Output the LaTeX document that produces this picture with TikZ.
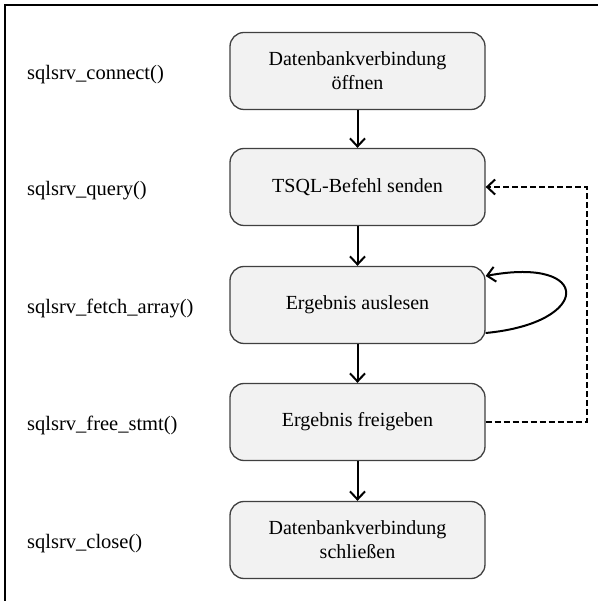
\documentclass[tikz,border=0pt]{standalone}
\usepackage{fontspec}
\setmainfont{Liberation Serif}
\usetikzlibrary{arrows.meta}
\definecolor{boxfill}{HTML}{F2F2F2}
\definecolor{boxline}{HTML}{404040}
\tikzset{
  stepbox/.style={draw=boxline, fill=boxfill, line width=1.3pt, rounded corners=14pt,
    minimum width=255pt, minimum height=77pt, align=center, inner sep=0pt,
    font=\fontsize{20}{24}\selectfont},
  fnlabel/.style={anchor=base west, inner sep=0pt, font=\fontsize{20.5}{24}\selectfont},
  flow/.style={line width=2pt, -{Straight Barb[length=8pt,width=15pt,line width=2pt]}},
}
\begin{document}
\begin{tikzpicture}[x=1pt,y=-1pt]
\useasboundingbox (0,0) rectangle (603,601);
\draw[line width=2pt] (5,601) -- (5,5) -- (598,5);

\node[stepbox] (b1) at (357.5,71) {Datenbankverbindung\\öffnen};
\node[stepbox] (b2) at (357.5,187) {TSQL-Befehl senden};
\node[stepbox] (b3) at (357.5,305) {Ergebnis auslesen};
\node[stepbox] (b4) at (357.5,422) {Ergebnis freigeben};
\node[stepbox] (b5) at (357.5,540) {Datenbankverbindung\\schließen};

\node[fnlabel] (l1) at (27,80) {sqlsrv\_connect()};
\node[fnlabel] (l2) at (27,196) {sqlsrv\_query()};
\node[fnlabel] (l3) at (27,314) {sqlsrv\_fetch\_array()};
\node[fnlabel] (l4) at (27,431) {sqlsrv\_free\_stmt()};
\node[fnlabel] (l5) at (27,549) {sqlsrv\_close()};

\draw[flow] (b1) -- (b2);
\draw[flow] (b2) -- (b3);
\draw[flow] (b3) -- (b4);
\draw[flow] (b4) -- (b5);

\draw[flow, dash pattern=on 6pt off 3pt] (b4.east) -- ++(101,0) |- (b2.east);
\draw[flow] ([yshift=-28pt]b3.east) .. controls +(107,-10) and +(107,-20) .. ([yshift=29pt]b3.east);
\end{tikzpicture}
\end{document}
